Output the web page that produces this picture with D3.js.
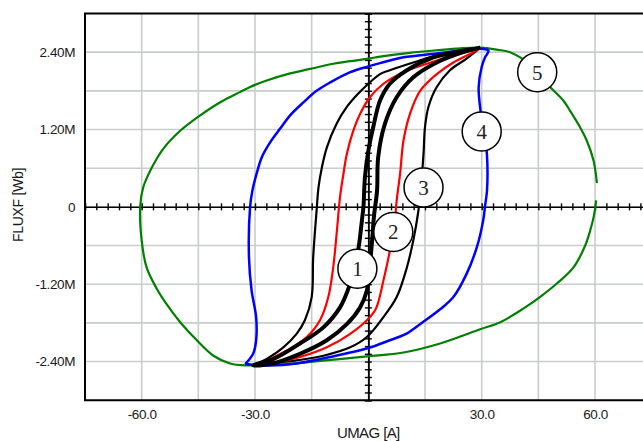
<!DOCTYPE html>
<html>
<head>
<meta charset="utf-8">
<script src="https://cdn.jsdelivr.net/npm/d3@7"></script>
<style>
body { margin: 0; background: #fff; }
text { font-family: "Liberation Sans", Arial, sans-serif; fill: #1a1a1a; }
</style>
</head>
<body>
<div id="chart"></div>
<script>
// DATA - UMAG [A] against FLUXF [Wb] (flux in millions)
// loop 5 (green), widest loop
var loop5 = [[60.5,0.37],[59.6,0.72],[57.8,1.03],[56.0,1.24],[53.4,1.49],[51.6,1.65],[48.1,1.86],
  [42.8,2.21],[40.2,2.32],[37.5,2.40],[34.0,2.44],[29.6,2.47],[24.3,2.46],[18.1,2.43],[11.0,2.39],
  [3.1,2.33],[0,2.30],[-4.8,2.26],[-9.3,2.22],[-15.4,2.14],[-20.7,2.07],[-26.9,1.96],[-31.3,1.86],
  [-34.0,1.78],[-39.3,1.62],[-44.5,1.42],[-49.8,1.18],[-54.3,0.90],[-57.3,0.61],[-59.6,0.30],
  [-60.4,0],[-60.0,-0.52],[-58.7,-0.94],[-56.0,-1.27],[-53.4,-1.51],[-49.8,-1.79],[-45.4,-2.07],
  [-41.0,-2.31],[-36.6,-2.43],[-32.2,-2.46],[-21.6,-2.44],[-12.8,-2.39],[-0.4,-2.32],[9.3,-2.26],
  [19.0,-2.12],[29.6,-1.90],[34.9,-1.79],[41.0,-1.58],[45.4,-1.40],[49.9,-1.19],[54.3,-0.94],
  [57.4,-0.60],[58.7,-0.37],[59.7,-0.14],[60.3,0.10]];

// loop 4 (blue)
var loop4 = [[-32.6,-2.44],[-26.0,-2.46],[-19.0,-2.43],[-10.1,-2.33],[0,-2.19],[5.7,-2.07],[9.7,-1.98],
  [13.7,-1.82],[19.0,-1.59],[22.5,-1.40],[26.0,-1.04],[28.7,-0.63],[30.4,-0.21],[30.9,0.02],
  [31.4,0.25],[31.4,0.80],[30.6,1.18],[29.7,1.49],[29.2,1.86],[30.0,2.17],[30.9,2.32],[31.8,2.42],
  [30.6,2.45],[25.1,2.43],[18.1,2.38],[9.3,2.32],[3.1,2.23],[0,2.18],[-4.8,2.09],[-10.1,1.93],
  [-13.7,1.80],[-17.2,1.62],[-20.7,1.42],[-23.4,1.21],[-26.0,1.00],[-28.2,0.77],[-29.5,0.53],
  [-30.7,0.25],[-31.3,0],[-31.6,-0.78],[-30.9,-1.30],[-29.7,-1.71],[-29.7,-2.07],[-30.5,-2.28],
  [-32.6,-2.44]];

// loop 3 (thin black): falling branch then rising branch
var loop3 = [[29.6,2.47],[24.3,2.43],[18.1,2.35],[11.9,2.24],[5.7,2.12],[3.1,2.06],[0,1.91],
  [-3.1,1.73],[-5.7,1.55],[-8.4,1.29],[-11.0,0.92],[-12.3,0.61],[-13.2,0.30],[-13.7,-0.06],
  [-14.6,-0.78],[-15.0,-1.40],[-16.8,-1.76],[-19.0,-1.97],[-22.5,-2.18],[-26.9,-2.36],[-30.5,-2.46],
  [-28.7,-2.44],[-19.9,-2.39],[-11.9,-2.31],[-4.8,-2.18],[-0.4,-2.02],[4.0,-1.71],[7.5,-1.40],
  [10.2,-0.94],[11.9,-0.52],[13.2,-0.08],[13.9,0.30],[14.6,0.82],[15.0,1.24],[15.9,1.55],
  [18.1,1.86],[21.6,2.12],[26.0,2.30],[29.6,2.47]];

// loop 2 (red)
var loop2 = [[29.6,2.47],[28.7,2.45],[22.5,2.35],[15.5,2.22],[9.3,2.09],[4.0,1.91],[0.4,1.70],
  [-2.2,1.44],[-4.0,1.18],[-5.7,0.82],[-6.6,0.51],[-7.5,0.15],[-8.4,-0.42],[-9.3,-0.94],
  [-10.6,-1.40],[-12.8,-1.76],[-16.3,-2.02],[-21.6,-2.23],[-27.8,-2.41],[-30.5,-2.46],
  [-26.9,-2.44],[-18.1,-2.33],[-11.0,-2.18],[-4.8,-1.97],[-0.4,-1.76],[2.0,-1.58],[4.0,-1.14],
  [5.7,-0.68],[6.9,-0.29],[7.5,0.10],[8.4,0.51],[9.3,1.03],[11.0,1.44],[13.7,1.80],[18.1,2.06],
  [22.5,2.24],[27.8,2.40],[29.6,2.47]];

// loop 1 (thick black), narrowest
var loop1 = [[29.6,2.47],[24.3,2.41],[17.2,2.32],[10.2,2.12],[5.7,1.91],[3.1,1.65],[1.3,1.24],
  [0,0.87],[-0.9,0.46],[-1.3,0],[-1.7,-0.21],[-2.5,-0.60],[-3.5,-0.91],[-4.8,-1.19],[-7.5,-1.56],
  [-11.9,-1.87],[-18.1,-2.12],[-25.1,-2.36],[-30.5,-2.46],
  [-26.0,-2.44],[-18.1,-2.28],[-11.0,-2.07],[-5.7,-1.82],[-2.2,-1.56],[-0.4,-1.30],[0.4,-0.91],
  [1.0,-0.52],[1.5,-0.14],[2.3,0.25],[2.6,0.77],[4.4,1.29],[7.5,1.70],[11.9,2.01],[18.1,2.24],
  [25.1,2.40],[29.6,2.47]];

// loop number bubbles (data coordinates)
var bubbleText = ["1", "2", "3", "4", "5"];
var bubbleX = [-2.9, 6.6, 14.6, 30.0, 44.7];
var bubbleY = [-0.96, -0.39, 0.30, 1.17, 2.09];

// tick labels
var xTickValues = [-60, -30, 30, 60];
var yTickValues = [2.4, 1.2, 0, -1.2, -2.4];

// set the dimensions (plot runs past the right edge of the window)
var margin = {top: 13.5, left: 85},
width = 566.7,
height = 386.7;

var x = d3.scaleLinear().domain([-75, 75]).range([0, width]);
var y = d3.scaleLinear().domain([-3, 3]).range([height, 0]);

var svg = d3.select("#chart").append("svg")
  .attr("width", 643)
  .attr("height", 441);

var g = svg.append("g")
  .attr("transform", "translate(" + margin.left + "," + margin.top + ")");

svg.append("defs").append("clipPath")
  .attr("id", "plotclip")
  .append("rect")
  .attr("x", 0).attr("y", 0)
  .attr("width", width).attr("height", height);

// grid lines
g.append("g")
  .selectAll("line")
  .data(d3.range(-60, 61, 15))
  .enter().append("line")
  .attr("x1", function(d) { return x(d); })
  .attr("x2", function(d) { return x(d); })
  .attr("y1", 0).attr("y2", height)
  .attr("stroke", "#c9cdc9")
  .attr("stroke-width", 1.6);

g.append("g")
  .selectAll("line")
  .data(d3.range(-4, 5).map(function(i) { return i * 0.6; }))
  .enter().append("line")
  .attr("x1", 0).attr("x2", width)
  .attr("y1", function(d) { return y(d); })
  .attr("y2", function(d) { return y(d); })
  .attr("stroke", "#c9cdc9")
  .attr("stroke-width", 1.6);

// axes through the origin, ticks on both sides
var xMinor = d3.range(-75, 76, 3);
var yMinor = d3.range(-25, 26).map(function(i) { return i * 0.12; });

[d3.axisBottom(x), d3.axisTop(x)].forEach(function(ax) {
  g.append("g")
    .attr("class", "zero-x")
    .attr("transform", "translate(0," + y(0) + ")")
    .call(ax.tickValues(xMinor).tickSize(3.5).tickFormat(""));
});
[d3.axisLeft(y), d3.axisRight(y)].forEach(function(ax) {
  g.append("g")
    .attr("class", "zero-y")
    .attr("transform", "translate(" + x(0) + ",0)")
    .call(ax.tickValues(yMinor).tickSize(3.5).tickFormat(""));
});
g.selectAll(".zero-x path, .zero-y path, .zero-x line, .zero-y line")
  .attr("stroke", "#000")
  .attr("stroke-width", 1.4);

// the loops
var valueline = d3.line()
  .x(function(d) { return x(d[0]); })
  .y(function(d) { return y(d[1]); })
  .curve(d3.curveCatmullRom.alpha(0.5));

var curves = g.append("g").attr("clip-path", "url(#plotclip)");

function addLoop(data, color, w) {
  curves.append("path")
    .datum(data)
    .attr("d", valueline)
    .attr("fill", "none")
    .attr("stroke", color)
    .attr("stroke-width", w)
    .attr("stroke-linejoin", "round");
}
addLoop(loop5, "#008000", 2.2);
addLoop(loop4, "#0000ff", 2.5);
addLoop(loop3, "#000000", 2.2);
addLoop(loop2, "#ff0000", 2.2);
addLoop(loop1, "#000000", 4);

// frame
g.append("path")
  .attr("d", "M" + (width + 5) + ",0H0V" + height + "H" + (width + 5))
  .attr("fill", "none")
  .attr("stroke", "#000")
  .attr("stroke-width", 2);

// numbered bubbles
var bubbles = g.selectAll(".bubble")
  .data(bubbleText)
  .enter().append("g")
  .attr("class", "bubble")
  .attr("transform", function(d, i) { return "translate(" + x(bubbleX[i]) + "," + y(bubbleY[i]) + ")"; });

bubbles.append("circle")
  .attr("r", 19.5)
  .attr("fill", "#fff")
  .attr("stroke", "#000")
  .attr("stroke-width", 1.5);

bubbles.append("text")
  .attr("text-anchor", "middle")
  .attr("dy", "0.35em")
  .style("font-family", "'Liberation Serif', 'Times New Roman', serif")
  .style("font-size", "21px")
  .style("fill", "#222")
  .text(function(d) { return d; });

// tick labels
var yAxis = g.append("g")
  .call(d3.axisLeft(y).tickValues(yTickValues).tickSize(0).tickPadding(10)
    .tickFormat(function(d) { return d === 0 ? "0" : d.toFixed(2) + "M"; }));
var xAxis = g.append("g")
  .attr("transform", "translate(0," + height + ")")
  .call(d3.axisBottom(x).tickValues(xTickValues).tickSize(0).tickPadding(9)
    .tickFormat(function(d) { return d.toFixed(1); }));
[xAxis, yAxis].forEach(function(a) {
  a.select(".domain").remove();
  a.selectAll("text")
    .style("font-family", "'Liberation Sans', Arial, sans-serif")
    .style("font-size", "13.5px")
    .style("letter-spacing", "-0.4px")
    .attr("fill", "#1a1a1a");
});

// axis titles
svg.append("text")
  .attr("x", margin.left + x(0))
  .attr("y", 438)
  .style("text-anchor", "middle")
  .style("font-size", "15px")
  .style("letter-spacing", "-0.6px")
  .text("UMAG [A]");

svg.append("text")
  .attr("transform", "rotate(-90,23,205)")
  .attr("x", 23)
  .attr("y", 205)
  .style("text-anchor", "middle")
  .style("font-size", "14px")
  .style("letter-spacing", "-0.3px")
  .text("FLUXF [Wb]");
</script>
</body>
</html>
